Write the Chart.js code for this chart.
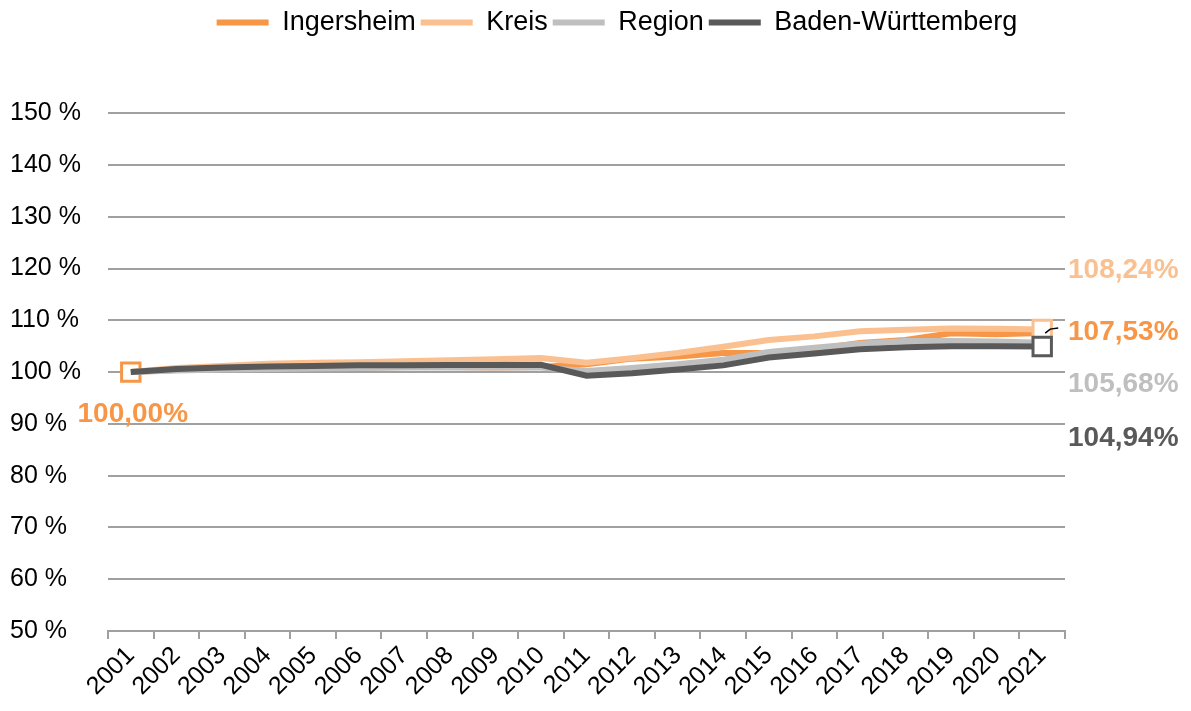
<!DOCTYPE html>
<html>
<head>
<meta charset="utf-8">
<script src="https://cdn.jsdelivr.net/npm/chart.js@4/dist/chart.umd.min.js"></script>
<style>
    html, body { margin: 0; padding: 0; background: #fff; }
</style>
</head>
<body>
<canvas id="chart" width="1191" height="711"></canvas>
<script>
var years = ["2001", "2002", "2003", "2004", "2005", "2006", "2007", "2008", "2009", "2010", "2011",
    "2012", "2013", "2014", "2015", "2016", "2017", "2018", "2019", "2020", "2021"];

var ingersheim = [100, 100.4, 100.6, 100.6, 100.8, 100.9, 101.0, 101.0, 100.9, 101.0, 101.5,
    102.6, 103.0, 103.7, 103.7, 104.4, 105.6, 106.2, 107.5, 107.3, 107.53];
var kreis = [100, 100.8, 101.2, 101.6, 101.8, 101.9, 102.1, 102.3, 102.5, 102.7, 101.8,
    102.7, 103.7, 104.9, 106.2, 106.9, 107.9, 108.2, 108.4, 108.35, 108.24];
var region = [100, 100.3, 100.5, 100.6, 100.7, 100.8, 100.9, 100.9, 100.9, 100.9, 100.2,
    100.8, 101.5, 102.4, 103.9, 104.7, 105.5, 106.0, 106.0, 105.9, 105.68];
var bw = [100, 100.6, 100.9, 101.1, 101.2, 101.3, 101.3, 101.35, 101.35, 101.4, 99.3,
    99.8, 100.5, 101.3, 102.8, 103.6, 104.4, 104.8, 105.0, 105.0, 104.94];

var yTicks = [50, 60, 70, 80, 90, 100, 110, 120, 130, 140, 150];

var cOrange = "#F79646";
var cLight = "#FAC090";
var cGray = "#BFBFBF";
var cDark = "#595959";

var fontFam = "'Liberation Sans', Arial, sans-serif";

// radius array: marker only at the listed index
function markers(idx) {
    return years.map(function (y, i) { return idx.indexOf(i) >= 0 ? 13 : 0; });
}

function fmt(v) {
    return v.toFixed(2).replace(".", ",") + "%";
}

// value labels next to the start / end points
var valueLabels = {
    id: "valueLabels",
    afterDatasetsDraw: function (chart) {
        var ctx = chart.ctx;
        var xs = chart.scales.x;
        var ys = chart.scales.y;
        var last = years.length - 1;
        var right = chart.chartArea.right + 3;
        ctx.save();
        ctx.font = "bold 28px " + fontFam;
        ctx.textBaseline = "middle";

        ctx.fillStyle = cOrange;
        ctx.textAlign = "center";
        ctx.fillText(fmt(ingersheim[0]), xs.getPixelForValue(0) + 2, ys.getPixelForValue(ingersheim[0]) + 42);

        ctx.textAlign = "left";
        var ends = [
            [kreis, cLight, -59],
            [ingersheim, cOrange, -1],
            [region, cGray, 42],
            [bw, cDark, 92]
        ];
        ends.forEach(function (e) {
            ctx.fillStyle = e[1];
            ctx.fillText(fmt(e[0][last]), right, ys.getPixelForValue(e[0][last]) + e[2]);
        });

        // small leader line for Ingersheim
        var px = xs.getPixelForValue(last);
        var py = ys.getPixelForValue(ingersheim[last]);
        ctx.strokeStyle = "#000";
        ctx.lineWidth = 1.5;
        ctx.beginPath();
        ctx.moveTo(px + 3, py);
        ctx.lineTo(px + 8, py - 4);
        ctx.lineTo(px + 16, py - 5);
        ctx.stroke();
        ctx.restore();
    }
};

var ctx = document.getElementById("chart");
var chart = new Chart(ctx, {
    type: "line",
    data: {
        labels: years,
        datasets: [
            {
                label: "Ingersheim",
                data: ingersheim,
                borderColor: cOrange,
                backgroundColor: "#fff",
                borderWidth: 6,
                pointStyle: "rect",
                pointRadius: markers([0]),
                pointBorderWidth: 3,
                pointBorderColor: cOrange,
                order: 4,
            },
            {
                label: "Kreis",
                data: kreis,
                borderColor: cLight,
                backgroundColor: "#fff",
                borderWidth: 6,
                pointStyle: "rect",
                pointRadius: markers([20]),
                pointBorderWidth: 3,
                pointBorderColor: cLight,
                order: 3,
            },
            {
                label: "Region",
                data: region,
                borderColor: cGray,
                backgroundColor: "#fff",
                borderWidth: 6,
                pointRadius: 0,
                order: 2,
            },
            {
                label: "Baden-Württemberg",
                data: bw,
                borderColor: cDark,
                backgroundColor: "#fff",
                borderWidth: 6,
                pointStyle: "rect",
                pointRadius: markers([20]),
                pointBorderWidth: 3,
                pointBorderColor: cDark,
                order: 1,
            },
        ],
    },
    options: {
        responsive: false,
        animation: false,
        devicePixelRatio: 1,
        layout: {
            // negative right padding shifts the centred legend to the right
            padding: { left: 10, right: -33, top: 4, bottom: 0 },
        },
        plugins: {
            legend: {
                position: "top",
                labels: {
                    usePointStyle: true,
                    pointStyle: "line",
                    pointStyleWidth: 52,
                    padding: 5,
                    color: "#000",
                    font: { family: fontFam, size: 27 },
                    sort: function (a, b) { return a.datasetIndex - b.datasetIndex; },
                    generateLabels: function (chart) {
                        var items = Chart.defaults.plugins.legend.labels.generateLabels(chart);
                        items.forEach(function (it) {
                            it.lineWidth = 6;
                            it.strokeStyle = chart.data.datasets[it.datasetIndex].borderColor;
                        });
                        return items;
                    },
                },
            },
            // empty title used as a spacer between legend and plot
            title: {
                display: true,
                text: "",
                weight: 500,
                font: { size: 1 },
                padding: { top: 0, bottom: 66 },
            },
            tooltip: { enabled: false },
        },
        scales: {
            x: {
                offset: true,
                afterFit: function (s) { s.height = 80; },
                grid: {
                    offset: true,
                    drawOnChartArea: false,
                    tickLength: 8,
                    color: "#A0A0A0",
                    lineWidth: 2,
                },
                border: { display: true, color: "#A0A0A0", width: 2 },
                ticks: {
                    autoSkip: false,
                    maxRotation: 45,
                    minRotation: 45,
                    color: "#000",
                    padding: 2,
                    font: { family: fontFam, size: 25 },
                },
            },
            y: {
                min: 50,
                max: 150,
                afterFit: function (s) { s.width = 98; },
                afterBuildTicks: function (s) {
                    s.ticks = yTicks.map(function (v) { return { value: v }; });
                },
                grid: {
                    color: "#A0A0A0",
                    lineWidth: 2,
                    drawTicks: false,
                },
                border: { display: false },
                ticks: {
                    crossAlign: "far",
                    padding: 8,
                    color: "#000",
                    font: { family: fontFam, size: 25 },
                    callback: function (v) { return v + " %"; },
                },
            },
            // empty right axis reserves room for the end labels
            yRight: {
                position: "right",
                display: true,
                min: 50,
                max: 150,
                afterFit: function (s) { s.width = 159; },
                grid: { display: false },
                border: { display: false },
                ticks: { display: false },
            },
        },
    },
    plugins: [valueLabels],
});
</script>
</body>
</html>
